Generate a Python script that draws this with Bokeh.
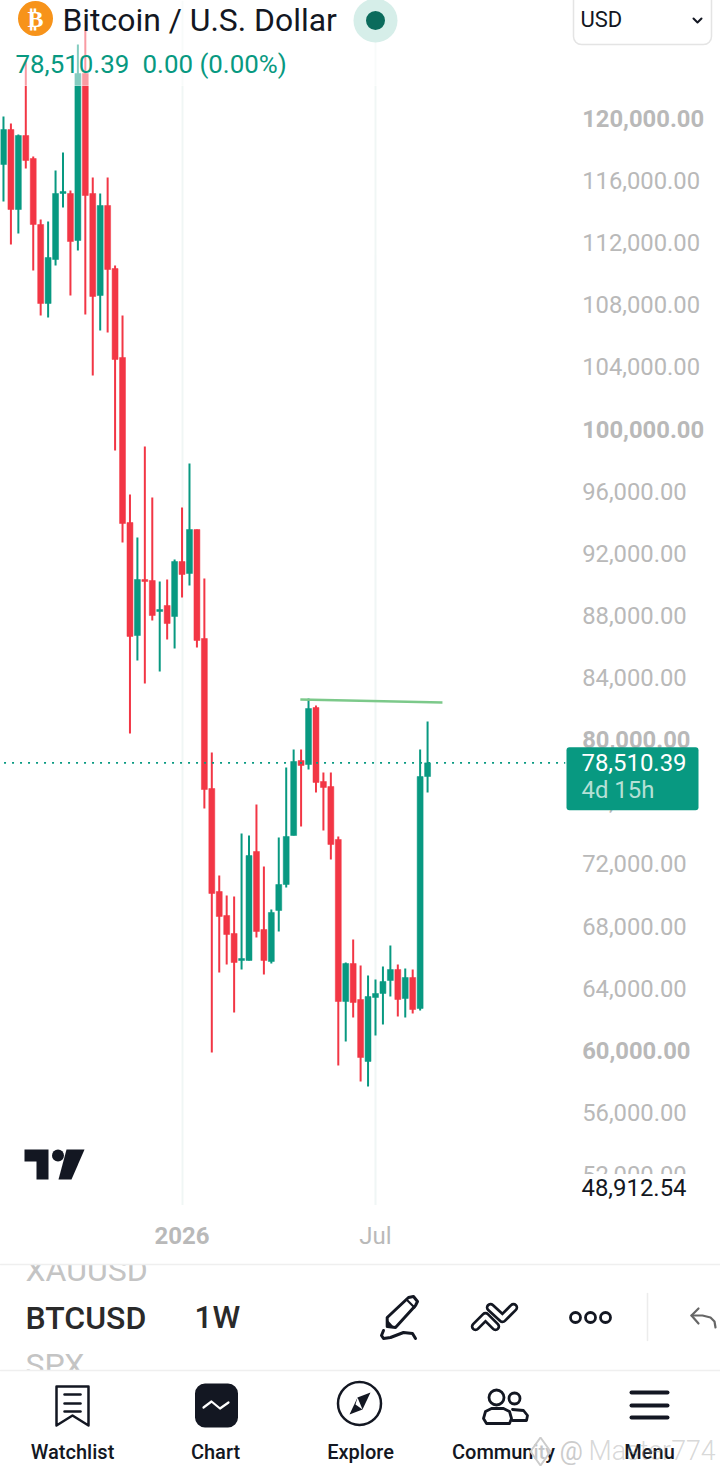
from bokeh.plotting import figure
from bokeh.models import (ColumnDataSource, Range1d, LinearAxis, FixedTicker, NumeralTickFormatter,
                          Grid)
from bokeh.core.properties import value
from bokeh.embed import file_html
from bokeh.resources import INLINE

# ---------- data ----------
opens = [117038,119292,114140,118905,117424,113175,108088,110921,115171,115171,
         112144,122898,115171,108603,114398,110341,104611,93986,86710,90316,
         90252,88256,88642,87934,91475,90703,93536,86517,76858,70227,
         68681,67522,65784,65784,72802,67779,65719,69003,70677,73832,
         78662,78404,82074,77309,76987,73575,63144,65590,63272,59280,
         63401,63659,64496,65204,63337,64689,62693,77631]
highs = [120129,119678,118970,123735,117553,113497,113368,116652,117811,115364,
         124765,125666,116201,115171,116201,110535,107315,95789,93021,98880,
         95596,90187,90316,91604,94952,97786,93536,90381,79177,71257,
         69969,69905,73961,73832,75828,71836,69067,73704,78211,79370,
         79370,82654,82203,77889,77889,73768,65655,67136,65462,64818,
         64560,65397,66749,65526,65268,65204,79370,81173]
lows = [114656,111887,112595,116780,110213,107315,107186,110535,114269,108603,
        111500,107380,103452,106349,106221,98622,92699,80400,85101,83620,
        87676,84392,86453,85873,89157,89930,85938,75571,59860,65011,
        65526,62435,65204,65784,67265,64882,65590,67651,70484,73832,
        74412,78082,76601,74154,72287,59023,60568,62113,57992,57670,
        60954,61663,63466,62178,62113,62371,62564,76601]
closes = [119292,114140,118905,117296,113175,108088,111050,115171,115300,112080,
          122898,115042,108539,114398,110277,104482,93922,86646,90316,90187,
          87998,88384,87483,91475,90638,93536,86388,76794,70098,68617,
          67458,65655,65912,72545,67651,65784,68874,70677,73768,78597,
          78340,82010,77245,76923,73253,63144,65590,63079,59538,63466,
          63659,64431,65204,63272,64689,62628,77631,78510]
price_major = [116000,112000,108000,104000,96000,92000,88000,84000,76000,72000,68000,64000,56000,52000]
price_bold = [120000,100000,80000,60000]
time_major = {50: "Jul"}
time_bold = {24: "2026"}
last_price = 78510.39
trend_x = [39.9, 59.0]
trend_y = [82590, 82397]

GREEN, RED = "#089981", "#F23645"
colors = [GREEN if c >= o else RED for o, c in zip(opens, closes)]
src = ColumnDataSource(dict(x=list(range(len(opens))), o=opens, h=highs, l=lows, c=closes, col=colors,
                            top=[max(a, b) for a, b in zip(opens, closes)],
                            bot=[min(a, b) for a, b in zip(opens, closes)]))

# ---------- figure: 1 px = 1 reference px ----------
W, H = 720, 1476
p = figure(width=W, height=H, output_backend="svg", toolbar_location=None,
           x_axis_location=None, y_axis_location=None, min_border=0,
           x_range=Range1d(-0.40, 96.37), y_range=Range1d(32558, 127598),
           background_fill_color="white", border_fill_color="white")
p.outline_line_color = None
p.grid.visible = False
p.extra_x_ranges["px"] = Range1d(0, 720)
p.extra_y_ranges["px"] = Range1d(1476, 0)
PX = dict(x_range_name="px", y_range_name="px")
FONT = value("Roboto")

p.add_layout(Grid(dimension=0, ticker=FixedTicker(ticks=list(time_major) + list(time_bold)),
                  grid_line_color="#f0f6f5", grid_line_width=2))

# candles
p.segment("x", "h", "x", "l", source=src, color="col", line_width=2)
p.vbar("x", 0.8, "top", "bot", source=src, fill_color="col", line_color="col", line_width=0.5)
p.segment([-1], [last_price], [75.5], [last_price], color=GREEN, line_width=1.6, line_dash="2 6")
p.line(trend_x, trend_y, color="#7CC98A", line_width=2.5)

# white band covering the grid below the chart (under the axes' labels)
p.quad(left=[0], right=[720], top=[1205], bottom=[1476], color="white", **PX)

def price_axis(ticks, style):
    ax = LinearAxis(ticker=FixedTicker(ticks=ticks), formatter=NumeralTickFormatter(format="0,0.00"),
                    fixed_location=76.97, axis_line_color=None, major_tick_line_color=None,
                    minor_tick_line_color=None, major_label_standoff=0,
                    major_label_text_font="Roboto", major_label_text_font_size="23.8px",
                    major_label_text_font_style=style, major_label_text_color="#b9b9b9")
    p.add_layout(ax, "right")

def time_axis(labels, style, loc):
    ax = LinearAxis(ticker=FixedTicker(ticks=list(labels)), major_label_overrides=labels,
                    fixed_location=loc, axis_line_color=None, major_tick_line_color=None,
                    minor_tick_line_color=None, major_label_standoff=0,
                    major_label_text_font="Roboto", major_label_text_font_size="24px",
                    major_label_text_font_style=style, major_label_text_color="#b9b9b9")
    p.add_layout(ax, "below")

price_axis(price_major, "normal")
price_axis(price_bold, "bold")
time_axis(time_major, "normal", 49300)
time_axis(time_bold, "bold", 48978)

# ---------- chrome helpers (reference pixel coordinates) ----------
def txt(x, y, s, size, color="#131722", style="normal", align="left", alpha=1.0, font=FONT):
    p.text(x=[x], y=[y], text=[s], text_font=font, text_font_size=f"{size}px", text_font_style=style,
           text_color=color, text_alpha=alpha, text_align=align, text_baseline="middle",
           level="overlay", **PX)

def stroke(xs, ys, color="#131722", w=2.5):
    p.line(xs, ys, line_color=color, line_width=w, line_cap="round", line_join="round", level="overlay", **PX)

def dot(x, y, r, fill="#131722", line=None, w=1, level="overlay"):
    p.circle(x=[x], y=[y], radius=[r], fill_color=fill, line_color=line, line_width=w, level=level, **PX)

def poly(xs, ys, fill="#131722", line=None, w=1, alpha=1.0):
    p.patch(xs, ys, fill_color=fill, fill_alpha=alpha, line_color=line, line_width=w, level="overlay", **PX)

# ---------- masks ----------
p.quad(left=[0], right=[720], top=[0], bottom=[85], color="white", alpha=0.5, level="annotation", **PX)
p.quad(left=[575], right=[720], top=[1174], bottom=[1205], color="white", level="annotation", **PX)

# ---------- header ----------
dot(35, 18, 17.5, fill="#F7931A")
txt(35, 18, "₿", 24, color="white", style="bold", align="center", font=value("DejaVu Sans"))
txt(62, 19, "Bitcoin / U.S. Dollar", 31.9)
dot(375, 20, 22, fill="#D6EEE9")
dot(375, 20, 9.5, fill="#0B6B5C")
txt(15, 63, "78,510.39", 25.9, color=GREEN)
txt(142, 63, "0.00 (0.00%)", 25.9, color=GREEN)
p.rect(x=[642], y=[14], width=[138], height=[60], border_radius=8, fill_color="white", line_color="#e4e4e4",
       line_width=1.5, level="annotation", **PX)
txt(580, 19, "USD", 22)
stroke([693, 697, 701], [18, 22, 18], w=2)

# ---------- last price tag ----------
p.rect(x=[632], y=[778.25], width=[132], height=[63], border_radius=3, fill_color=GREEN, line_color=None,
       level="annotation", **PX)
txt(581, 762, "78,510.39", 23.9, color="white")
txt(581, 789, "4d 15h", 23.9, color="#b5e0d6")
txt(581, 1187, "48,912.54", 23.9, color="#131722")

# ---------- TradingView mark ----------
poly([24, 48, 48, 36, 36, 24], [1149, 1149, 1179, 1179, 1161, 1161])
dot(57.5, 1155, 6)
poly([66, 84, 71, 58], [1149, 1149, 1179, 1179])

# ---------- symbol bar ----------
txt(25, 1269.5, "XAUUSD", 32, color="#c4c4c4")
txt(25, 1364.5, "SPX", 32, color="#c4c4c4")
txt(25, 1317, "BTCUSD", 32, color="#2a2a2a", font=value("Roboto Medium"))
txt(194, 1317, "1W", 31.5, color="#2a2a2a", font=value("Roboto Medium"))
p.quad(left=[0], right=[720], top=[1250], bottom=[1264], color="white", level="overlay", **PX)
p.quad(left=[0], right=[720], top=[1370], bottom=[1378], color="white", level="overlay", **PX)
stroke([0, 720], [1264, 1264], color="#efefef", w=1.5)
stroke([0, 720], [1370, 1370], color="#efefef", w=1.5)

# pencil
stroke([386.7, 386.7, 408, 413, 417, 415, 395, 386.7], [1326, 1317, 1297, 1296, 1301, 1305, 1327, 1326], w=3)
stroke([406, 414], [1299, 1307], w=2.2)
poly([386.7, 386.7, 393], [1326, 1319, 1326])
stroke([383, 381, 383, 390, 403, 412, 415], [1330, 1335, 1338, 1337, 1332, 1333, 1338], w=3)
# trend tool
for xs, ys in (([475, 485, 495], [1326, 1316, 1326]), ([490, 502, 513], [1307, 1318, 1307])):
    stroke(xs, ys, w=9.5)
    stroke(xs, ys, color="white", w=4)
# dots
for cx in (575, 590, 605):
    dot(cx, 1317, 5, fill="white", line="#131722", w=2.8)
stroke([647, 647], [1293, 1340], color="#ececec", w=1.5)
# undo
stroke([698, 691, 698], [1308, 1315, 1323], color="#666666", w=2.2)
stroke([691, 702, 710, 714, 715], [1315, 1315, 1317, 1321, 1327], color="#666666", w=2.2)

# ---------- bottom navigation ----------
stroke([56, 88, 88, 72, 56, 56], [1386, 1386, 1425, 1415, 1425, 1386])
for yy in (1394, 1403, 1411):
    stroke([64, 80], [yy, yy])
p.rect(x=[216], y=[1405], width=[43], height=[44], border_radius=10, fill_color="#131722", line_color=None,
       level="overlay", **PX)
stroke([203, 211, 219.5, 228], [1407, 1401, 1408, 1402], color="white", w=2.2)
dot(359, 1403, 21.5, fill="white", line="#131722", w=2.5)
poly([370, 362, 349, 357], [1392, 1409, 1414, 1397])
poly([362, 357, 355], [1409, 1397, 1404], fill="white")
dot(496, 1397, 7.5, fill="white", line="#131722", w=2.8)
dot(514, 1398, 5.5, fill="white", line="#131722", w=2.8)
stroke([512, 526, 527, 523, 512], [1420, 1420, 1415, 1410, 1409], w=2.8)
stroke([486, 483, 485, 491, 503, 509, 511, 509, 486], [1423, 1418, 1411, 1408, 1408, 1411, 1418, 1423, 1423], w=2.8)
for yy in (1392, 1405, 1417):
    stroke([631, 667], [yy, yy], w=4)

MED = value("Roboto Medium")
for cx, s in ((72, "Watchlist"), (215, "Chart"), (360, "Explore"), (503, "Community"), (649, "Menu")):
    txt(cx, 1451, s, 20, align="center", font=MED)
poly([540, 550, 540, 530], [1437, 1451, 1465, 1451], fill="white", line="#cccccc", w=2, alpha=0.75)
txt(559, 1450, "@", 26, color="#9a9a9a", alpha=0.5)
txt(588, 1450, "Master774", 26.8, color="#9a9a9a", alpha=0.4, font=value("Roboto Light"))

open("out.html", "w").write(file_html(p, INLINE))
